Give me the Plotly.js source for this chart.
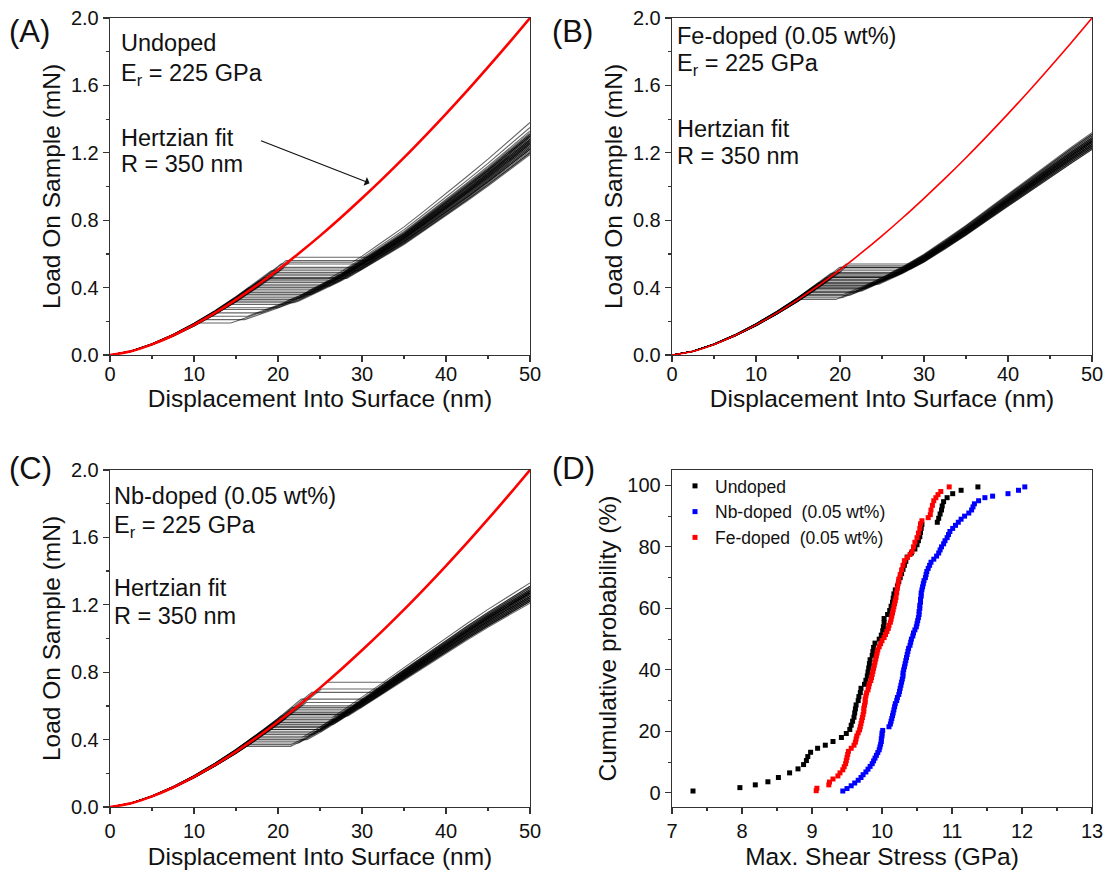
<!DOCTYPE html>
<html><head><meta charset="utf-8">
<script src="https://cdn.plot.ly/plotly-3.0.1.min.js"></script>
<style>body{margin:0;background:#fff}#chart{width:1107px;height:880px}</style>
</head><body><div id="chart"></div>
<script>
// Hertzian fit
const hertzDepth = [0,2.5,5,7.5,10,12.5,15,17.5,20,22.5,25,27.5,30,32.5,35,37.5,40,42.5,45,47.5,50];
const hertzLoad  = [0,0.022,0.063,0.116,0.179,0.250,0.329,0.414,0.506,0.604,0.707,0.816,0.930,1.048,1.171,1.299,1.431,1.567,1.708,1.852,2.0];

// plastic (post pop-in) branch, mean of band
const plastDepth = [5,7.5,10,12.5,15,17.5,20,22.5,25,27.5,30,32.5,35,37.5,40,42.5,45,47.5,50];
const plastLoadA = [0.05,0.08,0.12,0.16,0.20,0.245,0.29,0.34,0.40,0.465,0.54,0.62,0.70,0.79,0.88,0.975,1.07,1.17,1.27];
const plastLoadB = [0.05,0.09,0.13,0.18,0.24,0.29,0.34,0.39,0.445,0.505,0.575,0.655,0.74,0.83,0.92,1.01,1.10,1.185,1.27];
const plastLoadC = [0.05,0.09,0.13,0.18,0.23,0.28,0.33,0.39,0.46,0.54,0.62,0.705,0.79,0.875,0.96,1.04,1.12,1.195,1.27];

// pop-in loads (mN), final loads at 50 nm, elastic stiffness factor for each indentation
const popA = [0.58,0.56,0.55,0.54,0.52,0.51,0.50,0.49,0.48,0.47,0.46,0.455,0.45,0.44,0.43,0.42,0.41,0.40,0.39,0.38,0.37,0.36,0.35,0.34,0.33,0.32,0.31,0.30,0.28,0.27,0.25,0.23,0.21,0.19];
const endA = [1.30,1.25,1.38,1.22,1.28,1.33,1.20,1.26,1.31,1.24,1.29,1.19,1.35,1.27,1.23,1.30,1.21,1.28,1.25,1.32,1.26,1.22,1.29,1.24,1.27,1.31,1.20,1.26,1.23,1.28,1.25,1.30,1.22,1.27];
const elasA = [1.00,1.03,0.98,1.04,0.97,1.02,1.05,0.99,1.01,0.96,1.03,1.00,0.98,1.04,1.02,0.97,1.01,1.05,0.99,1.02,0.98,1.03,1.00,0.96,1.04,1.01,0.99,1.02,0.97,1.03,1.00,0.98,1.02,1.01];
const popB = [0.54,0.53,0.52,0.51,0.50,0.49,0.485,0.48,0.47,0.465,0.46,0.45,0.445,0.44,0.43,0.425,0.42,0.41,0.40,0.395,0.39,0.38,0.375,0.37,0.36,0.355,0.35,0.34,0.33,0.52,0.46,0.41];
const endB = [1.27,1.24,1.30,1.22,1.28,1.25,1.32,1.26,1.23,1.29,1.27,1.25,1.31,1.24,1.28,1.26,1.22,1.30,1.27,1.25,1.29,1.23,1.27,1.26,1.31,1.24,1.28,1.25,1.27,1.29,1.23,1.26];
const elasB = [1.01,0.98,1.03,1.00,0.97,1.02,1.04,0.99,1.01,0.98,1.03,1.00,0.97,1.02,1.04,0.99,1.01,0.98,1.03,1.00,0.97,1.02,1.01,0.99,1.03,0.98,1.00,1.02,0.99,1.01,0.98,1.03];
const popC = [0.74,0.70,0.68,0.64,0.62,0.60,0.59,0.58,0.57,0.56,0.55,0.54,0.53,0.52,0.51,0.50,0.49,0.48,0.475,0.47,0.46,0.45,0.44,0.43,0.42,0.41,0.40,0.39,0.38,0.37,0.36,0.55,0.50,0.46];
const endC = [1.28,1.25,1.31,1.23,1.27,1.30,1.22,1.26,1.29,1.24,1.28,1.21,1.33,1.27,1.24,1.29,1.22,1.27,1.25,1.30,1.26,1.23,1.28,1.25,1.27,1.31,1.22,1.26,1.24,1.28,1.25,1.29,1.23,1.27];
const elasC = [1.00,0.98,1.02,1.04,0.97,1.01,1.03,0.99,1.02,0.98,1.00,1.04,0.97,1.02,1.01,0.99,1.03,0.98,1.00,1.02,0.97,1.04,1.01,0.99,1.02,0.98,1.03,1.00,0.97,1.02,1.01,0.99,1.03,0.98];

// Panel D: cumulative probability (%) vs max shear stress (GPa)
const undopedX = [7.30,7.97,8.19,8.37,8.52,8.68,8.80,8.88,8.92,8.94,8.98,9.08,9.19,9.30,9.42,9.49,9.54,9.56,9.58,9.60,9.61,9.62,9.63,9.66,9.67,9.69,9.70,9.75,9.77,9.79,9.80,9.81,9.82,9.83,9.86,9.87,9.88,9.90,9.96,9.99,10.01,10.02,10.03,10.03,10.08,10.11,10.13,10.15,10.16,10.17,10.19,10.22,10.24,10.26,10.28,10.30,10.32,10.34,10.36,10.42,10.47,10.50,10.52,10.54,10.55,10.56,10.57,10.79,10.81,10.83,10.85,10.86,10.88,10.93,11.01,11.13,11.37];
const undopedY = [0.6,1.7,2.6,3.6,5.0,6.5,7.8,9.2,10.5,11.8,13.2,14.5,15.5,16.7,18.0,19.3,20.6,22.0,23.3,24.6,26.0,27.3,28.6,30.0,31.3,32.6,34.0,35.3,36.6,38.0,39.3,40.6,42.0,43.3,44.7,46.0,47.3,48.7,50.0,51.3,52.7,54.0,55.3,56.7,58.0,59.3,60.7,62.0,63.3,64.7,66.0,67.3,68.7,70.0,71.3,72.7,74.0,75.3,76.7,78.0,79.3,80.7,82.0,83.3,84.7,86.0,87.3,88.0,89.3,90.7,92.0,93.3,94.7,96.0,97.3,98.4,99.5];
const nbX = [9.44,9.50,9.56,9.61,9.66,9.70,9.73,9.77,9.80,9.83,9.86,9.88,9.90,9.92,9.94,9.96,9.97,9.98,9.99,9.99,10.00,10.00,10.01,10.10,10.12,10.13,10.14,10.15,10.16,10.17,10.18,10.19,10.21,10.22,10.24,10.25,10.26,10.27,10.28,10.29,10.30,10.30,10.31,10.32,10.33,10.34,10.35,10.36,10.37,10.38,10.40,10.41,10.42,10.44,10.45,10.47,10.49,10.50,10.51,10.52,10.53,10.53,10.54,10.54,10.55,10.55,10.56,10.56,10.57,10.58,10.59,10.60,10.62,10.63,10.64,10.66,10.68,10.70,10.74,10.78,10.81,10.83,10.85,10.88,10.90,10.93,10.95,10.97,11.01,11.05,11.09,11.13,11.18,11.24,11.28,11.30,11.32,11.38,11.47,11.58,11.80,11.95,12.04];
const nbY = [0.6,1.4,2.3,3.2,4.1,5.0,5.9,6.8,7.7,8.6,9.5,10.4,11.3,12.2,13.1,14.0,14.9,15.8,16.7,17.6,18.5,19.4,20.3,21.5,22.4,23.3,24.2,25.1,26.0,27.0,28.0,29.0,30.0,31.0,32.0,33.0,34.0,35.0,36.0,37.0,38.0,39.0,40.0,41.0,42.0,43.0,44.0,45.0,46.0,47.0,48.0,49.0,50.0,51.0,52.0,53.0,54.0,55.0,56.0,57.0,58.0,59.0,60.0,61.0,62.0,63.0,64.0,65.0,66.0,67.0,68.0,69.0,70.0,71.0,72.0,73.0,74.0,75.0,76.0,77.0,78.0,79.0,80.0,81.0,82.0,83.0,84.0,85.0,86.0,87.0,88.0,89.0,90.0,91.0,92.0,93.0,94.0,95.0,96.0,96.5,97.3,98.4,99.5];
const feX = [9.06,9.07,9.24,9.25,9.30,9.37,9.40,9.44,9.46,9.48,9.49,9.50,9.51,9.52,9.56,9.60,9.62,9.63,9.64,9.66,9.68,9.69,9.70,9.71,9.72,9.73,9.74,9.74,9.75,9.76,9.76,9.77,9.78,9.80,9.81,9.82,9.84,9.85,9.86,9.87,9.88,9.89,9.90,9.91,9.92,9.93,9.94,9.96,9.98,10.00,10.03,10.05,10.07,10.09,10.10,10.12,10.13,10.14,10.15,10.16,10.17,10.18,10.19,10.20,10.21,10.22,10.23,10.24,10.26,10.28,10.30,10.32,10.36,10.40,10.43,10.45,10.47,10.50,10.52,10.54,10.55,10.57,10.66,10.69,10.70,10.72,10.74,10.77,10.80,10.84,10.96];
const feY = [0.7,1.5,2.6,3.5,4.5,5.5,6.5,7.5,8.5,9.5,10.5,11.5,12.5,13.5,14.5,15.5,16.5,17.5,18.5,19.5,20.5,21.5,22.5,23.5,24.5,25.5,26.5,27.5,28.5,29.5,30.5,31.5,32.5,33.5,34.5,35.5,36.5,37.5,38.5,39.5,40.5,41.5,42.5,43.5,44.5,45.5,46.5,47.5,48.5,49.5,50.5,51.5,52.5,53.5,54.5,55.5,56.5,57.5,58.5,59.5,60.5,61.5,62.5,63.5,65.0,66.5,68.0,69.5,71.0,72.5,74.0,75.5,76.5,77.5,78.5,80.0,81.5,83.0,84.5,86.0,87.5,88.5,89.5,90.5,92.0,93.5,95.0,96.0,97.0,98.0,99.5];

function inv(xs, ys, y){
  if (y <= ys[0]) return xs[0];
  for (let k=0;k<ys.length-1;k++){
    if (y>=ys[k] && y<=ys[k+1]) return xs[k] + (y-ys[k])*(xs[k+1]-xs[k])/(ys[k+1]-ys[k]);
  }
  return xs[xs.length-1];
}
function buildCurves(pops, ends, elas, pLoad){
  const X=[], Y=[];
  for (let i=0;i<pops.length;i++){
    const p = pops[i], s = ends[i]/pLoad[pLoad.length-1];
    const pl = pLoad.map(v=>v*s);
    const el = hertzLoad.map(v=>v*elas[i]);
    const he = inv(hertzDepth, el, p);
    const hp = Math.max(he, inv(plastDepth, pl, p));
    for (let k=0;k<hertzDepth.length;k++){ if (hertzDepth[k] < he){ X.push(hertzDepth[k]); Y.push(el[k]); } }
    X.push(he); Y.push(p);
    X.push(hp); Y.push(p);
    for (let k=0;k<plastDepth.length;k++){ if (plastDepth[k] > hp){ X.push(plastDepth[k]); Y.push(pl[k]); } }
    X.push(null); Y.push(null);
  }
  return {X, Y};
}

const FONT = 'Arial, "Liberation Sans", Helvetica, sans-serif';
const gray = 'rgba(0,0,0,0.6)';
const cA = buildCurves(popA, endA, elasA, plastLoadA);
const cB = buildCurves(popB, endB, elasB, plastLoadB);
const cC = buildCurves(popC, endC, elasC, plastLoadC);

const traces = [
  {x:cA.X, y:cA.Y, xaxis:'x', yaxis:'y', mode:'lines', line:{color:gray, width:1.1}, showlegend:false},
  {x:hertzDepth, y:hertzLoad, xaxis:'x', yaxis:'y', mode:'lines', line:{color:'#ff0000', width:2.6, shape:'spline'}, showlegend:false},
  {x:cB.X, y:cB.Y, xaxis:'x2', yaxis:'y2', mode:'lines', line:{color:gray, width:1.1}, showlegend:false},
  {x:hertzDepth, y:hertzLoad, xaxis:'x2', yaxis:'y2', mode:'lines', line:{color:'#ff0000', width:1.6, shape:'spline'}, showlegend:false},
  {x:cC.X, y:cC.Y, xaxis:'x3', yaxis:'y3', mode:'lines', line:{color:gray, width:1.1}, showlegend:false},
  {x:hertzDepth, y:hertzLoad, xaxis:'x3', yaxis:'y3', mode:'lines', line:{color:'#ff0000', width:2.6, shape:'spline'}, showlegend:false},
  {x:undopedX, y:undopedY, xaxis:'x4', yaxis:'y4', mode:'markers', name:'Undoped', marker:{symbol:'square', size:5, color:'#000000'}},
  {x:nbX, y:nbY, xaxis:'x4', yaxis:'y4', mode:'markers', name:'Nb-doped  (0.05 wt%)', marker:{symbol:'square', size:5, color:'#0000ff'}},
  {x:feX, y:feY, xaxis:'x4', yaxis:'y4', mode:'markers', name:'Fe-doped  (0.05 wt%)', marker:{symbol:'square', size:5, color:'#ff0000'}}
];

const W=1107, H=880;
const px = v => v/W, py = v => 1 - v/H;
const tickFont = {family:FONT, size:20, color:'#111'};
const titleFont = {family:FONT, size:24.5, color:'#111'};
function xax(dom, anchor, range, dtick, minor, title, top){
  const a = {domain:dom, anchor:anchor, range:range, dtick:dtick, ticks:'outside', ticklen:6, tickwidth:1.2, tickcolor:'#333',
    minor:{dtick:minor, ticks:'outside', ticklen:3, tickwidth:1.2, tickcolor:'#333'},
    showline:true, linecolor:'#333', linewidth:1.3, mirror:true, showgrid:false, zeroline:false,
    tickfont:tickFont, title:{text:title, font:titleFont, standoff: top ? 0 : 6}};
  if (top) a.ticklabelstandoff = -5;
  return a;
}
function yax(dom, anchor, range, dtick, minor, fmt, title){
  return {domain:dom, anchor:anchor, range:range, dtick:dtick, tickformat:fmt, ticks:'outside', ticklen:6, tickwidth:1.2, tickcolor:'#333',
    minor:{dtick:minor, ticks:'outside', ticklen:3, tickwidth:1.2, tickcolor:'#333'},
    showline:true, linecolor:'#333', linewidth:1.3, mirror:true, showgrid:false, zeroline:false,
    tickfont:tickFont, title:{text:title, font:titleFont, standoff:3}};
}
const dxL=[px(110),px(530)], dxR=[px(672),px(1092)];
const dyT=[py(355),py(18)], dyB=[py(807),py(470)];

const ann = [];
const AS = 23.5;
function txt(x,y,t,size){ ann.push({xref:'paper', yref:'paper', x:px(x), y:py(y), text:t, showarrow:false, xanchor:'left', yanchor:'middle', font:{family:FONT, size:size||AS, color:'#111'}}); }
txt(7,31,'(A)',31); txt(550,31,'(B)',31); txt(7,468,'(C)',31); txt(550,468,'(D)',31);
txt(119,43,'Undoped'); txt(119,74,'E<sub>r</sub> = 225 GPa'); txt(119,138,'Hertzian fit'); txt(119,164,'R = 350 nm');
txt(675,36,'Fe-doped (0.05 wt%)'); txt(675,64,'E<sub>r</sub> = 225 GPa'); txt(675,129,'Hertzian fit'); txt(675,156,'R = 350 nm');
txt(112,496,'Nb-doped (0.05 wt%)'); txt(112,526,'E<sub>r</sub> = 225 GPa'); txt(112,588,'Hertzian fit'); txt(112,616,'R = 350 nm');
ann.push({xref:'x', yref:'y', axref:'x', ayref:'y', x:30.9, y:1.02, ax:17.8, ay:1.275, showarrow:true, arrowhead:1, arrowsize:1.3, arrowwidth:1.2, arrowcolor:'#111', text:''});

const layout = {
  width:W, height:H, margin:{l:0,r:0,t:0,b:0}, paper_bgcolor:'#fff', plot_bgcolor:'#fff',
  font:{family:FONT, color:'#111'},
  xaxis: xax(dxL,'y',[0,50],10,5,'Displacement Into Surface (nm)', true),
  yaxis: yax(dyT,'x',[0,2.0],0.4,0.2,'.1f','Load On Sample (mN)'),
  xaxis2: xax(dxR,'y2',[0,50],10,5,'Displacement Into Surface (nm)', true),
  yaxis2: yax(dyT,'x2',[0,2.0],0.4,0.2,'.1f','Load On Sample (mN)'),
  xaxis3: xax(dxL,'y3',[0,50],10,5,'Displacement Into Surface (nm)'),
  yaxis3: yax(dyB,'x3',[0,2.0],0.4,0.2,'.1f','Load On Sample (mN)'),
  xaxis4: xax(dxR,'y4',[7,13],1,0.5,'Max. Shear Stress (GPa)'),
  yaxis4: yax(dyB,'x4',[-4.6,105],20,10,'d','Cumulative probability (%)'),
  showlegend:true,
  legend:{x:px(675), y:py(468), xanchor:'left', yanchor:'top', bgcolor:'rgba(0,0,0,0)', font:{family:FONT, size:17.5, color:'#111'}, tracegroupgap:0, itemwidth:30},
  annotations: ann
};
Plotly.newPlot('chart', traces, layout, {displayModeBar:false, staticPlot:true});
</script></body></html>
